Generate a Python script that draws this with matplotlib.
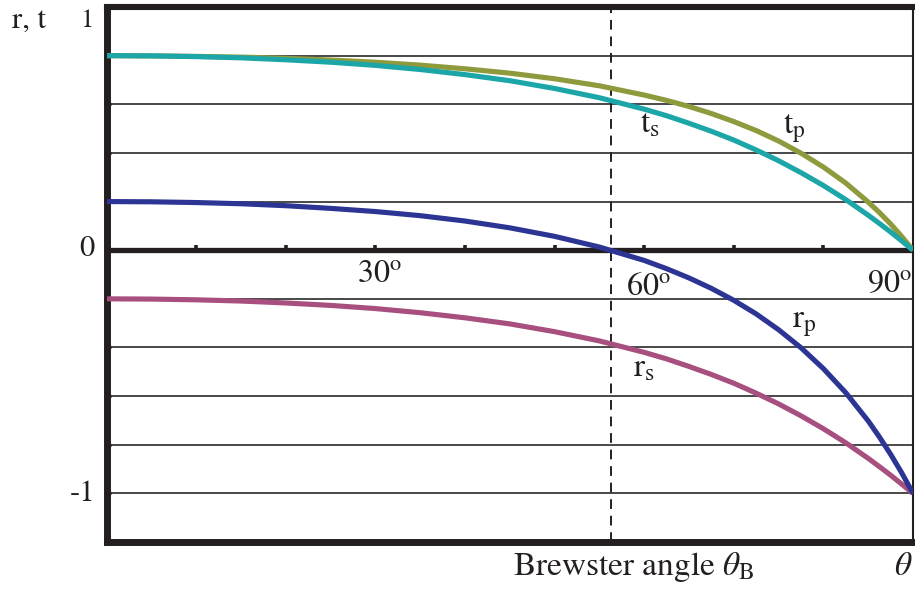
import numpy as np
import matplotlib
matplotlib.use("Agg")
import matplotlib.pyplot as plt

plt.rcParams["font.family"] = ["STIXGeneral", "DejaVu Serif"]
plt.rcParams["mathtext.fontset"] = "stix"

# Angle of incidence (degrees) and Fresnel amplitude coefficients (glass, n = 1.5)
angle_deg = [0, 5, 10, 15, 20, 25, 30, 35, 40, 45, 50, 55, 60, 62.5, 65, 67.5, 70, 72.5,
             75, 77.5, 80, 82.5, 85, 86.25, 87.5, 88.75, 90]
t_p = [0.800, 0.799, 0.797, 0.794, 0.789, 0.782, 0.773, 0.761, 0.746, 0.728, 0.705, 0.676,
       0.638, 0.616, 0.591, 0.562, 0.529, 0.492, 0.449, 0.399, 0.342, 0.276, 0.198,
       0.155, 0.108, 0.056, 0.0]
t_s = [0.800, 0.799, 0.796, 0.791, 0.783, 0.773, 0.760, 0.743, 0.722, 0.697, 0.665, 0.627,
       0.580, 0.553, 0.522, 0.489, 0.453, 0.412, 0.368, 0.319, 0.266, 0.208, 0.144,
       0.110, 0.075, 0.038, 0.0]
r_p = [0.200, 0.199, 0.196, 0.191, 0.183, 0.172, 0.159, 0.142, 0.120, 0.092, 0.057, 0.013,
       -0.042, -0.076, -0.114, -0.157, -0.206, -0.262, -0.327, -0.401, -0.487, -0.586,
       -0.702, -0.768, -0.839, -0.916, -1.0]
r_s = [-0.200, -0.201, -0.204, -0.209, -0.217, -0.227, -0.240, -0.257, -0.278, -0.303,
       -0.335, -0.373, -0.420, -0.447, -0.478, -0.511, -0.547, -0.588, -0.632, -0.681,
       -0.734, -0.792, -0.856, -0.890, -0.925, -0.962, -1.0]
brewster_deg = 56.3

grid_levels = [-1.0, -0.8, -0.6, -0.4, -0.2, 0.2, 0.4, 0.6, 0.8]
axis_ticks_deg = [10, 20, 30, 40, 50, 60, 70, 80]
degree_labels = ["30", "60", "90"]

INK = "#231f20"

fig = plt.figure(figsize=(9.15, 5.94), dpi=100)
ax = fig.add_axes([0.1164, 0.0875, 0.8814, 0.9007])
ax.set_xlim(0, 90)
ax.set_ylim(-1.2, 1.0)

# frame
for side, lw in [("left", 5.0), ("top", 4.4), ("bottom", 5.0), ("right", 1.5)]:
    ax.spines[side].set_linewidth(lw)
    ax.spines[side].set_color(INK)

ax.set_xticks([])
ax.set_yticks(grid_levels)
ax.set_yticklabels([])
ax.tick_params(axis="y", direction="in", length=3, width=2.2, color=INK)

# horizontal guide lines and the zero axis with its degree marks
for g in grid_levels:
    ax.axhline(g, color="#3a3a3a", lw=1.3, zorder=1)
ax.axhline(0, color=INK, lw=3.8, zorder=2)
ax.vlines(axis_ticks_deg, 0, 0.02, color=INK, lw=2.6, zorder=2)

# Brewster angle marker
ax.axvline(brewster_deg, color=INK, lw=1.4, ls=(0, (5, 3.5)), zorder=3)

# coefficient curves
ax.plot(angle_deg, t_p, color="#8e9a3c", lw=3.7, zorder=4, solid_capstyle="butt")
ax.plot(angle_deg, t_s, color="#1ca6a8", lw=3.7, zorder=5, solid_capstyle="butt")
ax.plot(angle_deg, r_s, color="#a7507f", lw=3.7, zorder=4, solid_capstyle="butt")
ax.plot(angle_deg, r_p, color="#2c3593", lw=3.7, zorder=5, solid_capstyle="butt")

# curve names
lab = dict(fontsize=24, color=INK, va="baseline", ha="left", zorder=6)
ax.text(59.5, 0.482, r"$\mathrm{t}_\mathrm{s}$", **lab)
ax.text(75.5, 0.478, r"$\mathrm{t}_\mathrm{p}$", **lab)
ax.text(76.5, -0.316, r"$\mathrm{r}_\mathrm{p}$", **lab)
ax.text(58.8, -0.521, r"$\mathrm{r}_\mathrm{s}$", **lab)

# angle labels below the zero axis
deg = dict(fontsize=23, color=INK, va="baseline", zorder=6)
ax.text(27.9, -0.131, r"$\mathrm{%s}^{\mathrm{o}}$" % degree_labels[0], ha="left", **deg)
ax.text(58.0, -0.184, r"$\mathrm{%s}^{\mathrm{o}}$" % degree_labels[1], ha="left", **deg)
ax.text(89.9, -0.172, r"$\mathrm{%s}^{\mathrm{o}}$" % degree_labels[2], ha="right", **deg)

# value labels and axis titles
W, H = 915.0, 594.0
fig.text(12 / W, 1 - 22 / H, "r, t", fontsize=22, color=INK, ha="left", va="center")
fig.text(93 / W, 1 - 21 / H, "1", fontsize=19, color=INK, ha="right", va="center")
fig.text(95 / W, 1 - 249 / H, "0", fontsize=22, color=INK, ha="right", va="center")
fig.text(95 / W, 1 - 494 / H, "-1", fontsize=22, color=INK, ha="right", va="center")
fig.text(513 / W, 1 - 575 / H, r"Brewster angle $\theta_\mathrm{B}$", fontsize=24,
         color=INK, ha="left", va="baseline")
fig.text(912 / W, 1 - 575 / H, r"$\theta$", fontsize=24, color=INK, ha="right", va="baseline")

fig.savefig("out.png", dpi=100, facecolor="white")
